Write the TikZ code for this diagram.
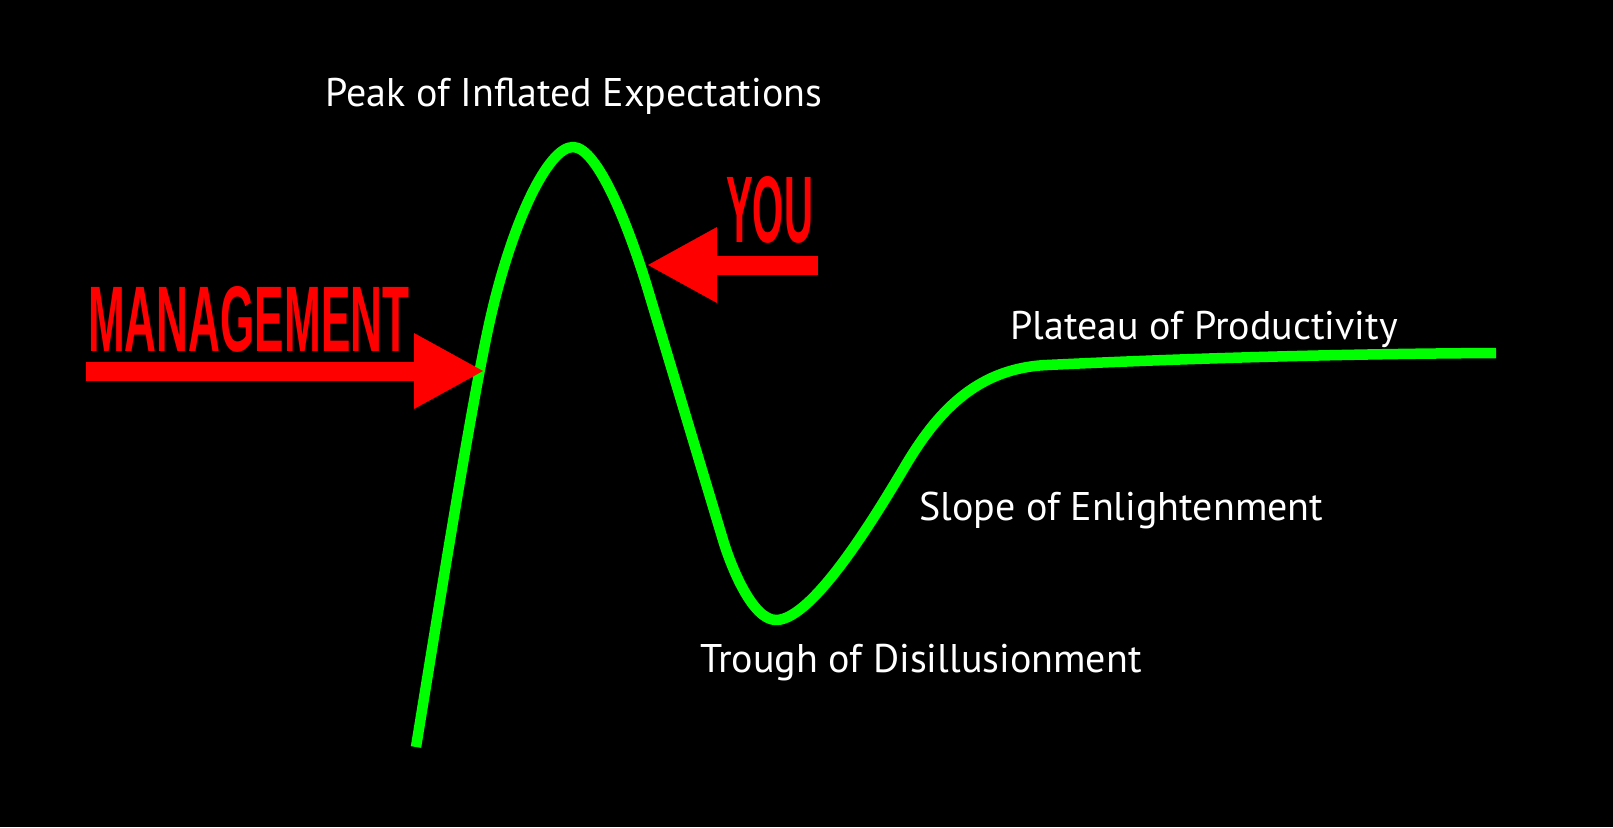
\documentclass[tikz,border=0pt]{standalone}
\usepackage{fontspec}
\setmainfont{PT Sans}
\newfontfamily\bannerfont{Liberation Sans}
\usetikzlibrary{arrows.meta}
\definecolor{hypegreen}{RGB}{0,255,0}
\definecolor{hypered}{RGB}{255,0,0}

\begin{document}
\begin{tikzpicture}[x=1pt,y=-1pt]
\tikzset{phase/.style={text=white, inner sep=0pt, anchor=base west, font=\fontsize{40}{40}\selectfont},
  banner/.style={text=hypered, inner sep=0pt, anchor=base west},
  pointer/.style={hypered, line width=19pt, -{Triangle[length=69pt,width=76pt,line width=0pt]}}}
\fill[black] (0,0) rectangle (1613,827);
\useasboundingbox (0,0) rectangle (1613,827);
\coordinate (start) at (416,747);
\coordinate (rise) at (490,320);
\coordinate (top) at (573,147);
\coordinate (fall) at (648,290);
\coordinate (drop) at (723,540);
\coordinate (bottom) at (776,620);
\coordinate (climb) at (907,463);
\coordinate (knee) at (1047,365);
\coordinate (end) at (1496,353);
\draw[hypegreen, line width=10.5pt, line join=round]
  (start) .. controls (440,600) and (472,400) .. (rise)
  .. controls (512,222) and (548,147) .. (top)
  .. controls (598,147) and (630,230) .. (fall)
  -- (drop)
  .. controls (730.5,565) and (752,620) .. (bottom)
  .. controls (815,620) and (883,503) .. (climb)
  .. controls (940,408) and (980,368) .. (knee)
  .. controls (1130,361) and (1300,354) .. (end);
\node[phase] (peak) at (325,106) {Peak of Inflated Expectations};
\node[phase] (plateau) at (1010,339) {Plateau of Productivity};
\node[phase] (slope) at (919,520) {Slope of Enlightenment};
\node[phase] (trough) at (700,672) {Trough of Disillusionment};
\node[banner] (mgmt) at (88,351) {\resizebox{321pt}{65pt}{\bannerfont\bfseries MANAGEMENT}};
\node[banner] (you) at (726,242) {\resizebox{87pt}{66pt}{\bannerfont\bfseries YOU}};
\coordinate (mgmtTail) at (86,371);
\coordinate (mgmtTip) at (483,371);
\coordinate (youTail) at (818,265);
\coordinate (youTip) at (648,265);
\draw[pointer] (mgmtTail) -- (mgmtTip);
\draw[pointer] (youTail) -- (youTip);
\end{tikzpicture}
\end{document}
